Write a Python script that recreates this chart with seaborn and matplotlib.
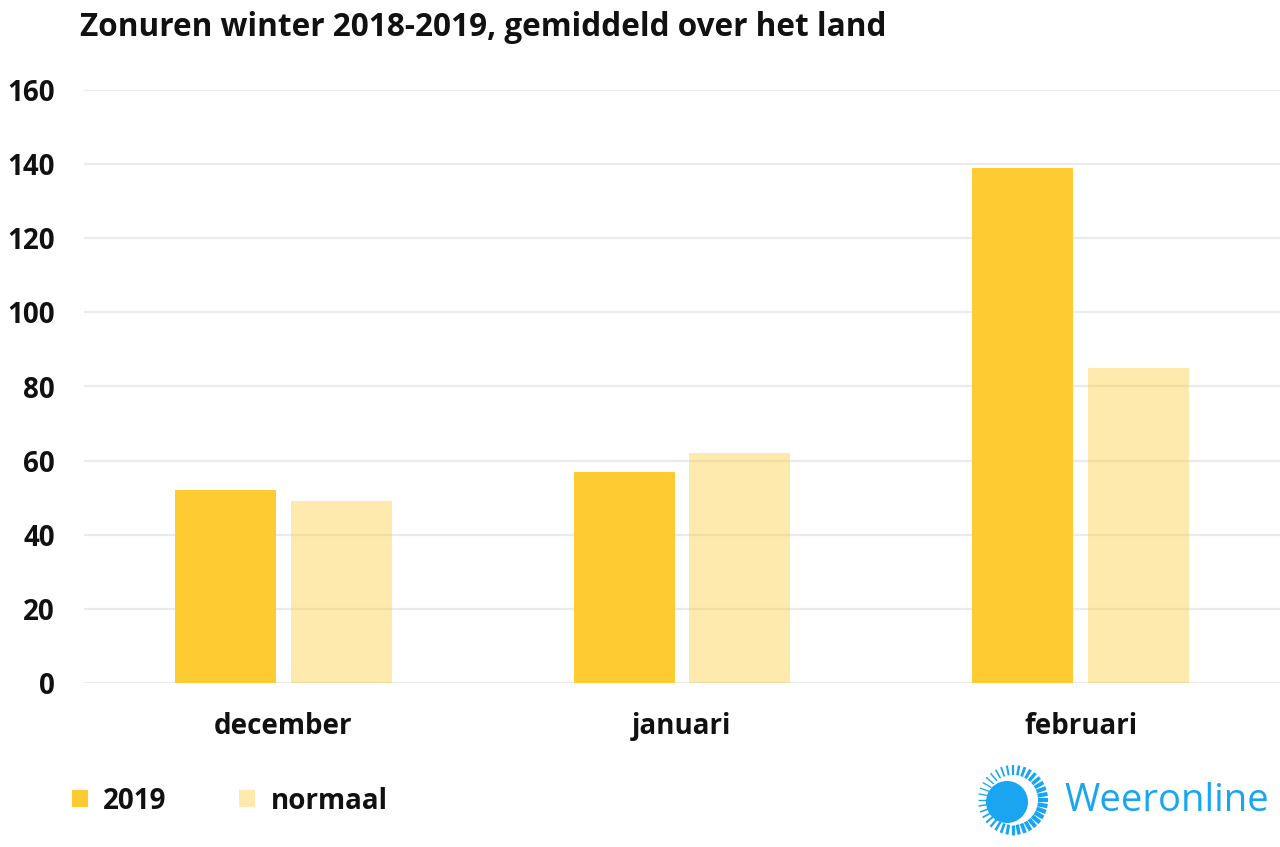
import numpy as np
import pandas as pd
import matplotlib
matplotlib.use("Agg")
import matplotlib.pyplot as plt
import seaborn as sns
from matplotlib.patches import Circle

months = ["december", "januari", "februari"]
series_names = ["2019", "normaal"]
values_2019 = [52, 57, 139]
values_normaal = [49, 62, 85]
yticks = [0, 20, 40, 60, 80, 100, 120, 140, 160]
title = "Zonuren winter 2018-2019, gemiddeld over het land"

df = pd.DataFrame({
    "maand": months * 2,
    "reeks": [series_names[0]] * 3 + [series_names[1]] * 3,
    "uren": values_2019 + values_normaal,
})

sns.set_theme(style="white")
plt.rcParams["font.family"] = ["Open Sans", "DejaVu Sans"]

W, H = 1280, 847
fig = plt.figure(figsize=(W / 100, H / 100), dpi=100)
ax = fig.add_axes([84 / W, 1 - 683 / H, 1 - 84 / W, (683 - 90) / H])

yellow = "#FFCB33"
sns.barplot(data=df, x="maand", y="uren", hue="reeks", order=months,
            hue_order=series_names, palette=[yellow, yellow],
            width=0.58, gap=0.128, ax=ax, saturation=1, edgecolor="none",
            linewidth=0, zorder=3)

# lighter, semi-transparent "normaal" bars
for cont, lab in zip(ax.containers, series_names):
    if lab == "normaal":
        for p in cont:
            p.set_alpha(0.4)

ax.set_xlim(-0.5, 2.5)
ax.set_ylim(0, 160)
ax.set_yticks(yticks)
ax.yaxis.grid(True, color="#E9EBEE", linewidth=1.6, zorder=0)
ax.set_axisbelow(True)
for s in ax.spines.values():
    s.set_visible(False)
ax.set_xlabel("")
ax.set_ylabel("")
ax.tick_params(axis="y", length=0, pad=21, labelsize=20, labelcolor="#111111")
ax.tick_params(axis="x", length=0, pad=21, labelsize=20, labelcolor="#111111")
for t in ax.get_yticklabels() + ax.get_xticklabels():
    t.set_fontweight("bold")

fig.text(80 / W, 1 - 28 / H, title, fontsize=22.7, fontweight="bold",
         color="#111111", ha="left", va="center")

# legend
handles, labels = ax.get_legend_handles_labels()
if ax.legend_:
    ax.legend_.remove()
leg = fig.legend(handles, labels, loc="center left",
                 bbox_to_anchor=(72 / W, 1 - 801 / H), ncol=2, frameon=False,
                 prop={"size": 20, "weight": "bold"}, handlelength=0.57,
                 handleheight=0.57, handletextpad=0.55, columnspacing=2.62,
                 borderaxespad=0, borderpad=0)
for h, lab in zip(leg.legend_handles, labels):
    h.set_edgecolor("none")
    if lab == "normaal":
        h.set_alpha(0.4)
for t in leg.get_texts():
    t.set_color("#111111")

# Weeronline logo (decoration)
blue = "#1AA5F0"
lax = fig.add_axes([0, 0, 1, 1], facecolor="none")
lax.set_xlim(0, W)
lax.set_ylim(H, 0)
lax.axis("off")
lax.add_patch(Circle((1007, 802), 21, color=blue, lw=0))
rx, ry = 1013, 800
for ang in np.linspace(0, 2 * np.pi, 36, endpoint=False):
    d = np.cos(ang - np.deg2rad(20))
    lw = 0.9 + 2.2 * (d + 1) / 2
    r0, r1 = 25, 35
    lax.plot([rx + r0 * np.cos(ang), rx + r1 * np.cos(ang)],
             [ry + r0 * np.sin(ang), ry + r1 * np.sin(ang)],
             color=blue, lw=lw, solid_capstyle="butt")
lax.text(1064, 801, "Weeronline", fontsize=27.5, color=blue, ha="left",
         va="center")

fig.savefig("out.png", dpi=100)
